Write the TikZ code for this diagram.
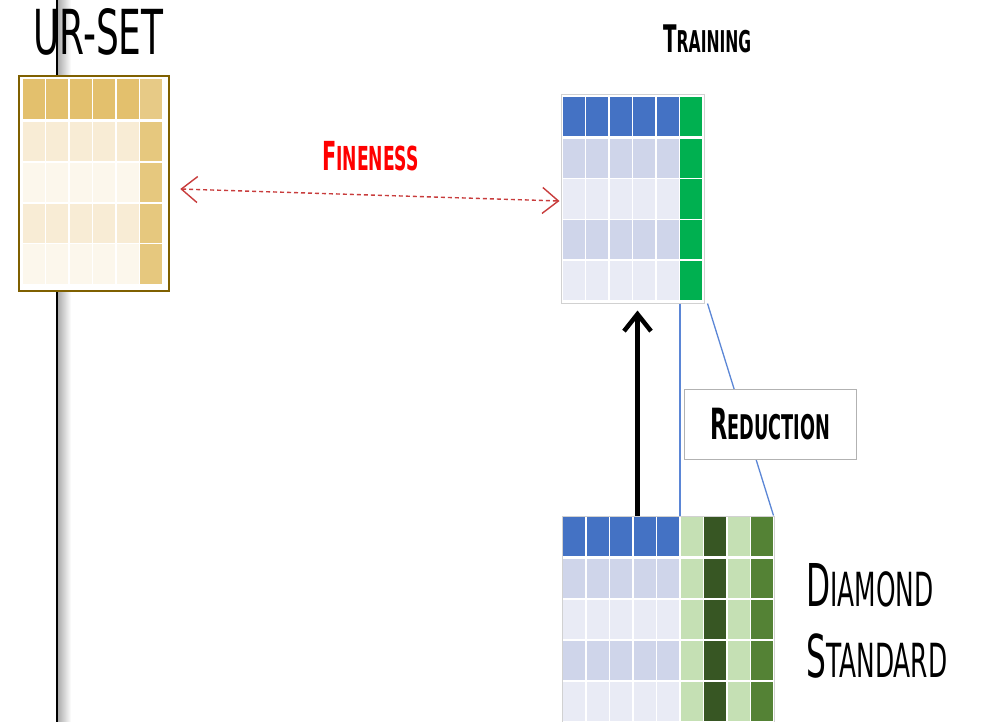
\documentclass[tikz,border=0pt]{standalone}
\usepackage{fontspec}
\usetikzlibrary{arrows.meta,calc}

% narrow display faces
\newfontfamily\ursetfont[FakeStretch=0.58]{DejaVu Sans}
\newfontfamily\agency[FakeStretch=0.53]{DejaVu Sans}
\newfontfamily\agencyb[FakeStretch=0.52]{DejaVu Sans}
% large initial capital followed by smaller capitals
\newcommand\capsmall[4]{{\fontsize{#1}{#1}\selectfont #3}{\fontsize{#2}{#2}\selectfont #4}}

\definecolor{urframe}{HTML}{7F6000}
\definecolor{urhead}{HTML}{E3C06D}
\definecolor{urheadlast}{HTML}{E7CA86}
\definecolor{urlast}{HTML}{E6C87E}
\definecolor{urodd}{HTML}{F8ECD5}
\definecolor{ureven}{HTML}{FCF7EC}
\definecolor{tblue}{HTML}{4472C4}
\definecolor{linkblue}{HTML}{5B86D6}
\definecolor{tgreen}{HTML}{00B050}
\definecolor{bodd}{HTML}{CFD5EA}
\definecolor{beven}{HTML}{E9EBF5}
\definecolor{glight}{HTML}{C5E0B4}
\definecolor{gdark}{HTML}{375623}
\definecolor{gmid}{HTML}{548235}
\definecolor{fineline}{HTML}{C83C3C}

\tikzset{
  tframe/.style={draw=black!18, line width=1pt, minimum width=#1, inner sep=0},
  label/.style={anchor=base west, inner sep=0pt},
  linkline/.style={draw=linkblue, line width=1.3pt},
}

\begin{document}
\begin{tikzpicture}[x=1pt, y=-1pt]
\useasboundingbox (0,0) rectangle (982,722);
\clip (0,0) rectangle (982,722);
\fill[white] (0,0) rectangle (982,722);

% page edge with its shadow
\shade[left color=black!32, right color=white] (58,0) rectangle (71,722);
\draw[line width=2pt] (57,0) -- (57,722);

% ---------- UR-SET table ----------
\fill[white] (19,76) rectangle (169,291);
\foreach \j in {0,...,4}
  \fill[urhead] ({23+\j*23.4},79) rectangle +(22,40);
\fill[urheadlast] ({23+5*23.4},79) rectangle +(22,40);
\foreach \i/\c in {1/urodd,2/ureven,3/urodd,4/ureven} {
  \foreach \j in {0,...,4}
    \fill[\c] ({23+\j*23.4},{122+(\i-1)*40.8}) rectangle +(22,39.5);
  \fill[urlast] ({23+5*23.4},{122+(\i-1)*40.8}) rectangle +(22,39.5);
}
\node[draw=urframe, line width=2.5pt, minimum width=150pt, minimum height=215pt, inner sep=0] (ur) at (94,183.5) {};

% ---------- Training table ----------
\fill[white] (561,95) rectangle (704,303);
\foreach \j in {0,...,4}
  \fill[tblue] ({563+\j*23.4},97) rectangle +(22,39);
\fill[tgreen] (680,97) rectangle +(22,39);
\foreach \i/\c in {1/bodd,2/beven,3/bodd,4/beven} {
  \foreach \j in {0,...,4}
    \fill[\c] ({563+\j*23.4},{139+(\i-1)*40.5}) rectangle +(22,39);
  \fill[tgreen] (680,{139+(\i-1)*40.5}) rectangle +(22,39);
}
\node[tframe=143pt, minimum height=208pt] (tr) at (632.5,199) {};

% ---------- Diamond Standard table ----------
\fill[white] (562,516) rectangle (774,760);
\foreach \i/\c in {0/tblue,1/bodd,2/beven,3/bodd,4/beven,5/bodd} {
  \pgfmathsetmacro\ytop{\i==0 ? 517 : 559+(\i-1)*41}
  \foreach \j in {0,...,4}
    \fill[\c] ({563+\j*23.5},\ytop) rectangle +(22,39);
  \foreach \j/\g in {5/glight,6/gdark,7/glight,8/gmid}
    \fill[\g] ({563+\j*23.5},\ytop) rectangle +(22,39);
}
\node[tframe=212pt, minimum height=244pt] (ds) at (668,638) {};

% ---------- connectors ----------
\draw[fineline, line width=1.4pt, dash pattern=on 4pt off 3pt,
      {Straight Barb[length=16pt,width=26pt]}-{Straight Barb[length=16pt,width=26pt]}]
  ($(ur.east)+(10,5.5)$) -- ($(tr.west)+(-1,2)$);

\draw[linkline] ($(tr.south west)+(119.5,0)$) -- ($(ds.north west)+(118.5,0)$);
\draw[linkline] ($(tr.south east)+(3,0)$) -- ($(ds.north east)+(-1,0)$);

\draw[line width=4.5pt, -{Straight Barb[length=17pt,width=27pt]}]
  ($(ds.north west)+(76,0)$) -- ($(tr.south west)+(77,7)$);

\node[draw=black!30, fill=white, line width=1pt, minimum width=172pt, minimum height=70pt, inner sep=0] (redbox) at (770,424)
  {\agencyb\bfseries\capsmall{43}{34}{R}{EDUCTION}};

% ---------- labels ----------
\node[label] (ursetlbl) at (33,55) {\ursetfont\fontsize{62}{62}\selectfont UR-SET};
\node[label] (trainlbl) at (663,53) {\agencyb\bfseries\capsmall{38}{30}{T}{RAINING}};
\node[label, text=red] (finelbl) at (322,171) {\agencyb\bfseries\capsmall{40}{33}{F}{INENESS}};
\node[label] (diamlbl) at (806,606) {\agency\capsmall{59}{47}{D}{IAMOND}};
\node[label] (stdlbl) at (806,677) {\agency\capsmall{59}{47}{S}{TANDARD}};
\end{tikzpicture}
\end{document}
